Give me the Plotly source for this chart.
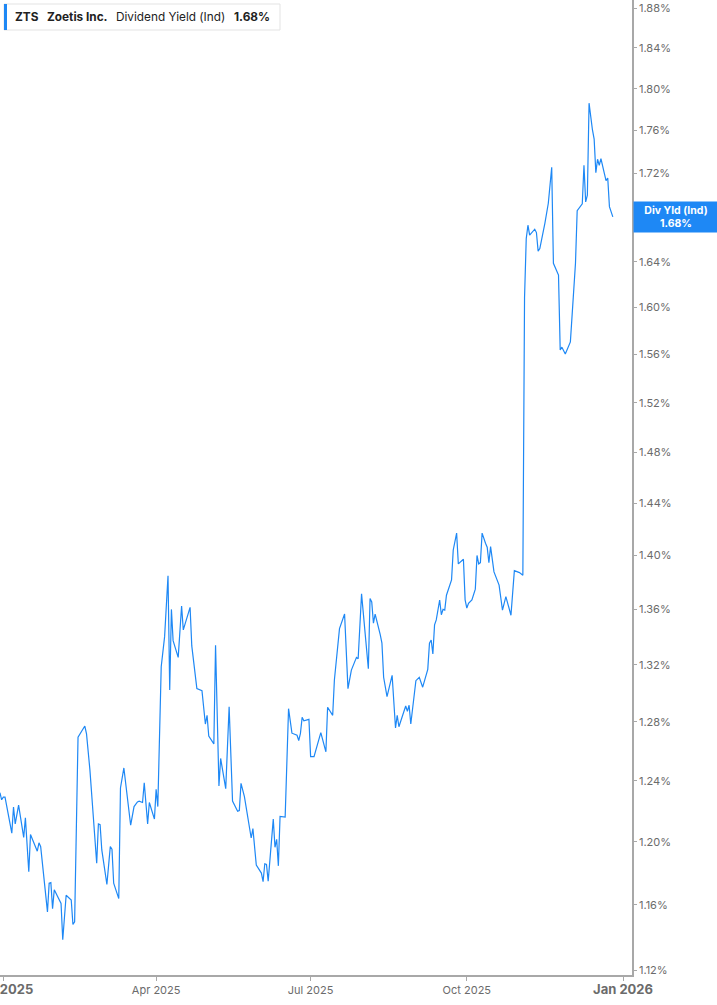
"""ZTS dividend yield (indicated), one-year daily line on a log scale."""

import numpy as np
import plotly.graph_objects as go

# ---------------------------------------------------------------------------
# Data
# ---------------------------------------------------------------------------

SYMBOL = "ZTS"
COMPANY = "Zoetis Inc."
SERIES_NAME = "Dividend Yield (Ind)"
BADGE_NAME = "Div Yld (Ind)"

dates = [
    "2024-12-30", "2024-12-31", "2025-01-01", "2025-01-02", "2025-01-06", "2025-01-07", "2025-01-08", "2025-01-10", "2025-01-13", "2025-01-14",
    "2025-01-16", "2025-01-17", "2025-01-21", "2025-01-22", "2025-01-23", "2025-01-27", "2025-01-28", "2025-01-29", "2025-01-30", "2025-01-31",
    "2025-02-04", "2025-02-05", "2025-02-07", "2025-02-10", "2025-02-11", "2025-02-12", "2025-02-14", "2025-02-18", "2025-02-19", "2025-02-21",
    "2025-02-25", "2025-02-26", "2025-02-27", "2025-02-28", "2025-03-03", "2025-03-05", "2025-03-06", "2025-03-07", "2025-03-10", "2025-03-11",
    "2025-03-13", "2025-03-17", "2025-03-19", "2025-03-21", "2025-03-22", "2025-03-24", "2025-03-25", "2025-03-27", "2025-03-28", "2025-03-31",
    "2025-04-01", "2025-04-02", "2025-04-04", "2025-04-06", "2025-04-08", "2025-04-09", "2025-04-10", "2025-04-11", "2025-04-14", "2025-04-16",
    "2025-04-17", "2025-04-21", "2025-04-22", "2025-04-23", "2025-04-25", "2025-04-28", "2025-04-30", "2025-05-01", "2025-05-02", "2025-05-05",
    "2025-05-06", "2025-05-08", "2025-05-09", "2025-05-12", "2025-05-14", "2025-05-16", "2025-05-19", "2025-05-20", "2025-05-21", "2025-05-23",
    "2025-05-27", "2025-05-28", "2025-05-30", "2025-06-02", "2025-06-03", "2025-06-04", "2025-06-05", "2025-06-06", "2025-06-09", "2025-06-10",
    "2025-06-11", "2025-06-12", "2025-06-13", "2025-06-16", "2025-06-18", "2025-06-20", "2025-06-23", "2025-06-24", "2025-06-25", "2025-06-26",
    "2025-06-27", "2025-06-30", "2025-07-01", "2025-07-03", "2025-07-07", "2025-07-10", "2025-07-11", "2025-07-14", "2025-07-15", "2025-07-18",
    "2025-07-21", "2025-07-23", "2025-07-25", "2025-07-28", "2025-07-29", "2025-07-31", "2025-08-04", "2025-08-05", "2025-08-06", "2025-08-07",
    "2025-08-08", "2025-08-11", "2025-08-12", "2025-08-13", "2025-08-15", "2025-08-18", "2025-08-20", "2025-08-21", "2025-08-22", "2025-08-26",
    "2025-08-27", "2025-08-28", "2025-08-29", "2025-09-01", "2025-09-03", "2025-09-05", "2025-09-08", "2025-09-09", "2025-09-10", "2025-09-11",
    "2025-09-12", "2025-09-13", "2025-09-15", "2025-09-16", "2025-09-17", "2025-09-18", "2025-09-19", "2025-09-22", "2025-09-23", "2025-09-25",
    "2025-09-26", "2025-09-29", "2025-09-30", "2025-10-01", "2025-10-02", "2025-10-04", "2025-10-06", "2025-10-07", "2025-10-08", "2025-10-09",
    "2025-10-10", "2025-10-12", "2025-10-13", "2025-10-14", "2025-10-15", "2025-10-17", "2025-10-19", "2025-10-20", "2025-10-22", "2025-10-24",
    "2025-10-27", "2025-10-29", "2025-11-01", "2025-11-03", "2025-11-04", "2025-11-05", "2025-11-06", "2025-11-07", "2025-11-10", "2025-11-11",
    "2025-11-12", "2025-11-13", "2025-11-16", "2025-11-18", "2025-11-20", "2025-11-21", "2025-11-24", "2025-11-25", "2025-11-26", "2025-11-28",
    "2025-12-01", "2025-12-04", "2025-12-05", "2025-12-08", "2025-12-09", "2025-12-10", "2025-12-11", "2025-12-12", "2025-12-14", "2025-12-15",
    "2025-12-16", "2025-12-17", "2025-12-18", "2025-12-19", "2025-12-21", "2025-12-22", "2025-12-23", "2025-12-24", "2025-12-26",
]

# dividend yield, percent
yld = [
    1.2322, 1.2275, 1.2292, 1.2292, 1.2056, 1.2227, 1.2117, 1.2240, 1.2029, 1.2156,
    1.1808, 1.2047, 1.1940, 1.1994, 1.1969, 1.1556, 1.1736, 1.1740, 1.1576, 1.1694,
    1.1609, 1.1384, 1.1660, 1.1630, 1.1478, 1.1495, 1.2696, 1.2772, 1.2718, 1.2474,
    1.1863, 1.2117, 1.2112, 1.1948, 1.1728, 1.1969, 1.1952, 1.1736, 1.1639, 1.2353,
    1.2487, 1.2108, 1.2230, 1.2261, 1.2266, 1.2257, 1.2388, 1.2117, 1.2257, 1.2148,
    1.2345, 1.2230, 1.3186, 1.3402, 1.3848, 1.3023, 1.3600, 1.3373, 1.3253, 1.3625,
    1.3451, 1.3615, 1.3335, 1.3234, 1.3032, 1.3018, 1.2786, 1.2846, 1.2704, 1.2650,
    1.3340, 1.2366, 1.2551, 1.2349, 1.2906, 1.2266, 1.2200, 1.2204, 1.2384, 1.2296,
    1.2025, 1.2086, 1.1851, 1.1800, 1.1745, 1.1859, 1.1855, 1.1749, 1.2148, 1.1965,
    1.2016, 1.1846, 1.2165, 1.2161, 1.2892, 1.2723, 1.2709, 1.2673, 1.2721, 1.2832,
    1.2808, 1.2818, 1.2564, 1.2564, 1.2727, 1.2596, 1.2902, 1.2846, 1.3093, 1.3460,
    1.3566, 1.3032, 1.3163, 1.3253, 1.3243, 1.3714, 1.3172, 1.3679, 1.3654, 1.3499,
    1.3566, 1.3417, 1.3355, 1.3112, 1.2976, 1.3126, 1.2759, 1.2846, 1.2767, 1.2911,
    1.2874, 1.2916, 1.2786, 1.3088, 1.3112, 1.3042, 1.3168, 1.3355, 1.3378, 1.3277,
    1.3487, 1.3523, 1.3669, 1.3561, 1.3600, 1.3595, 1.3704, 1.3818, 1.4042, 1.4170,
    1.3937, 1.3972, 1.3669, 1.3610, 1.3645, 1.3669, 1.3749, 1.4001, 1.3937, 1.3947,
    1.4170, 1.4093, 1.4063, 1.3947, 1.4067, 1.3877, 1.3818, 1.3779, 1.3595, 1.3694,
    1.3557, 1.3887, 1.3872, 1.3853, 1.6084, 1.6605, 1.6725, 1.6636, 1.6689, 1.6659,
    1.6493, 1.6516, 1.6743, 1.6924, 1.7255, 1.6386, 1.6282, 1.5639, 1.5662, 1.5605,
    1.5707, 1.6386, 1.6857, 1.6918, 1.7274, 1.6936, 1.6998, 1.7861, 1.7605, 1.7518,
    1.7205, 1.7330, 1.7274, 1.7336, 1.7199, 1.7131, 1.7156, 1.6893, 1.6800,
]

y_ticks = [1.12, 1.16, 1.20, 1.24, 1.28, 1.32, 1.36, 1.40, 1.44, 1.48,
           1.52, 1.56, 1.60, 1.64, 1.68, 1.72, 1.76, 1.80, 1.84, 1.88]

x_ticks = ["2025-01-01", "2025-04-01", "2025-07-01", "2025-10-01", "2026-01-01"]
x_tick_labels = ["Jan 2025", "Apr 2025", "Jul 2025", "Oct 2025", "Jan 2026"]
x_tick_bold = [True, False, False, False, True]

# ---------------------------------------------------------------------------
# Styling
# ---------------------------------------------------------------------------

FONT = "Inter, Roboto, sans-serif"
LINE_BLUE = "#1e88f5"
AXIS_GREY = "#a8a8a8"
LABEL_GREY = "#6b6b6b"
TEXT_DARK = "#222222"

W, H = 717, 1005
M = dict(l=0, r=85, t=0, b=30)

last = yld[-1]
last_txt = f"{last:.2f}%"


def _tick_text(label, bold):
    if bold:
        return f"<span style='font-size:13px'><b>{label}</b></span>"
    return label


fig = go.Figure()

fig.add_trace(go.Scatter(
    x=dates,
    y=yld,
    mode="lines",
    line=dict(color=LINE_BLUE, width=1.2),
    name=SERIES_NAME,
    hovertemplate="%{x|%b %d, %Y}<br>%{y:.2f}%<extra></extra>",
))

fig.update_layout(
    template="none",
    width=W,
    height=H,
    margin=M,
    paper_bgcolor="white",
    plot_bgcolor="white",
    showlegend=False,
    font=dict(family=FONT, color=LABEL_GREY, size=11),
    xaxis=dict(
        type="date",
        range=["2024-12-30 01:00", "2026-01-06 07:00"],
        showgrid=False,
        zeroline=False,
        showline=True,
        linecolor=AXIS_GREY,
        linewidth=1.5,
        ticks="outside",
        ticklen=4,
        tickwidth=1,
        tickcolor=AXIS_GREY,
        tickvals=x_ticks,
        ticktext=[_tick_text(t, b) for t, b in zip(x_tick_labels, x_tick_bold)],
        tickfont=dict(size=11, color=LABEL_GREY),
        ticklabeloverflow="allow",
        automargin=False,
        fixedrange=True,
    ),
    yaxis=dict(
        type="log",
        side="right",
        range=[0.048049, 0.276029],
        showgrid=False,
        zeroline=False,
        showline=True,
        linecolor=AXIS_GREY,
        linewidth=1.5,
        ticks="outside",
        ticklen=3,
        tickwidth=1,
        tickcolor=AXIS_GREY,
        tickvals=y_ticks,
        ticktext=[f"{v:.2f}%" for v in y_ticks],
        tickfont=dict(size=11, color=LABEL_GREY),
        ticklabeloverflow="allow",
        automargin=False,
        fixedrange=True,
    ),
)

# header box in the top-left corner (pixel-sized shapes anchored to the plot corner)
fig.add_shape(
    type="rect", xref="paper", yref="paper",
    xsizemode="pixel", ysizemode="pixel", xanchor=0, yanchor=1,
    x0=4, x1=280, y0=-4, y1=-30,
    line=dict(color="#e3e3e3", width=1), fillcolor="white", layer="above",
)
fig.add_shape(
    type="rect", xref="paper", yref="paper",
    xsizemode="pixel", ysizemode="pixel", xanchor=0, yanchor=1,
    x0=4, x1=7, y0=-4, y1=-30,
    line=dict(width=0), fillcolor=LINE_BLUE, layer="above",
)

header_parts = [
    (f"<b>{SYMBOL}</b>", 13),
    (f"<b>{COMPANY}</b>", 45),
    (SERIES_NAME, 114),
    (f"<b>{last_txt}</b>", 232),
]
for txt, dx in header_parts:
    fig.add_annotation(
        text=txt, xref="paper", yref="paper", x=0, y=1,
        xanchor="left", yanchor="middle", xshift=dx, yshift=-17,
        showarrow=False, font=dict(family=FONT, size=11.8, color=TEXT_DARK),
    )

# last-value badge on the price axis
fig.add_annotation(
    text=f"<b>{BADGE_NAME}<br>{last_txt}</b>",
    xref="paper", yref="y", x=1, y=np.log10(last),
    xanchor="left", yanchor="middle", xshift=1,
    showarrow=False, align="center",
    width=80, height=26, borderpad=2,
    bgcolor=LINE_BLUE,
    font=dict(family=FONT, size=10.5, color="white"),
)

# the page body has a default 8px margin; drop it so the chart sits at the corner
fig.write_html(
    "out.html",
    config={"displayModeBar": False},
    post_script="document.body.style.margin = '0';",
)
